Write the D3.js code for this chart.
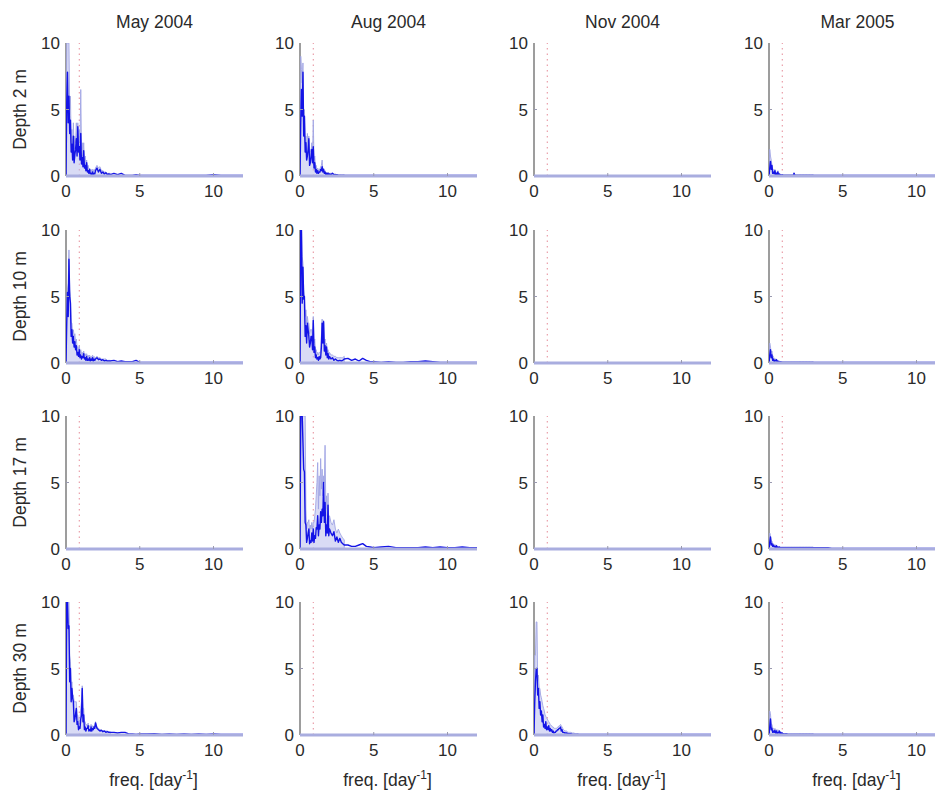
<!DOCTYPE html>
<html>
<head>
<meta charset="utf-8">
<script src="https://cdn.jsdelivr.net/npm/d3@7"></script>
<style>
  html, body { margin: 0; padding: 0; background: #fff; }
  svg { display: block; font-family: "Liberation Sans", Arial, sans-serif; }
</style>
</head>
<body>
<svg id="chart" width="935" height="798"></svg>
<script>
// Frequency grid (cycles per day): fine below 2, coarser in the tail
const freq = [
  0, 0.05, 0.1, 0.15, 0.2, 0.25, 0.3, 0.35, 0.4, 0.45,
  0.5, 0.55, 0.6, 0.65, 0.7, 0.75, 0.8, 0.85, 0.9, 0.95,
  1.0, 1.05, 1.1, 1.15, 1.2, 1.25, 1.3, 1.35, 1.4, 1.45,
  1.5, 1.55, 1.6, 1.65, 1.7, 1.75, 1.8, 1.85, 1.9, 1.95, 2.0,
  2.1, 2.2, 2.3, 2.4, 2.5, 2.6, 2.7, 2.8, 2.9, 3.0,
  3.25, 3.5, 3.75, 4.0, 4.25, 4.5, 4.75, 5.0,
  5.5, 6.0, 6.5, 7.0, 7.5, 8.0, 8.5, 9.0, 9.5, 10.0, 10.5, 11.0, 11.5, 12.0];

const months = ["May 2004", "Aug 2004", "Nov 2004", "Mar 2005"];
const depths = ["Depth 2 m", "Depth 10 m", "Depth 17 m", "Depth 30 m"];
const xTicks = [0, 5, 10];
const yTicks = [0, 5, 10];
const xDomain = [0, 12];
const yDomain = [0, 10];
const inertialFreq = 0.9;

// Spectral density (blue) and its wider envelope (light), per campaign and depth.
// Envelopes cover the grid up to 3 day^-1.
const specMay2 = [
  0, 5.5, 7.8, 4.0, 6.0, 3.2, 4.2, 1.8, 2.4, 1.2,
  3.0, 1.0, 1.6, 2.0, 2.8, 1.5, 3.7, 1.8, 2.2, 1.2,
  3.2, 0.9, 1.4, 0.7, 1.9, 0.6, 0.8, 0.4, 1.0, 0.3,
  0.4, 0.2, 0.5, 0.15, 0.2, 0.1, 0.3, 0.1, 0.2, 0.15, 0.4,
  0.6, 0.3, 0.5, 0.2, 0.3, 0.15, 0.25, 0.1, 0.15, 0.1,
  0.2, 0.1, 0.2, 0.05, 0.05, 0.05, 0.1, 0.05,
  0.05, 0.05, 0.05, 0.05, 0.05, 0.05, 0.05, 0.05, 0.05, 0.1, 0.05, 0.05, 0.05, 0.05];
const envMay2 = [
  0, 10, 10, 10, 10, 5, 6, 2.5, 3.5, 2.0,
  4, 2.0, 3, 2.5, 4, 2.5, 4, 2.5, 3.5, 2.5,
  6.5, 2.0, 2.5, 1.5, 2.5, 1.0, 1.5, 0.8, 1.2, 0.6,
  0.8, 0.5, 0.6, 0.4, 0.5, 0.3, 0.5, 0.3, 0.5, 0.4, 0.6,
  0.8, 0.6, 0.7, 0.4, 0.4, 0.3, 0.3, 0.2, 0.2, 0.2];

const specAug2 = [
  0, 4.0, 6.5, 4.5, 7.8, 3.0, 4.5, 1.8, 2.5, 1.2,
  1.5, 2.0, 2.8, 0.8, 1.0, 1.5, 2.0, 1.0, 2.2, 0.6,
  1.0, 0.3, 0.5, 0.2, 0.4, 0.2, 0.3, 0.3, 0.5, 0.4,
  0.7, 0.3, 0.5, 0.2, 0.3, 0.1, 0.2, 0.1, 0.2, 0.1, 0.15,
  0.1, 0.2, 0.1, 0.1, 0.1, 0.05, 0.05, 0.05, 0.05, 0.05,
  0.05, 0.05, 0.05, 0.05, 0.05, 0.05, 0.05, 0.05,
  0.05, 0.05, 0.05, 0.05, 0.05, 0.05, 0.05, 0.05, 0.05, 0.05, 0.05, 0.05, 0.05, 0.05];
const envAug2 = [
  0, 9, 8, 7, 8.5, 4, 5, 2.5, 3, 2,
  3.2, 2.5, 3, 1.5, 2, 1.8, 2.5, 1.5, 4.2, 1.2,
  1.5, 0.6, 0.8, 0.4, 0.6, 0.4, 0.5, 0.5, 0.7, 0.8,
  1.2, 0.4, 0.6, 0.3, 0.4, 0.2, 0.3, 0.2, 0.3, 0.2, 0.2,
  0.2, 0.2, 0.15, 0.15, 0.1, 0.1, 0.1, 0.1, 0.1, 0.1];

const specNov2 = [];
const envNov2 = [];

const specMar2 = [
  0, 0.6, 1.1, 0.5, 0.8, 0.2, 0.3, 0.15, 0.4, 0.1,
  0.2, 0.1, 0.3, 0.05, 0.15, 0.05, 0.1, 0.05, 0.1, 0.05,
  0.05, 0.05, 0.05, 0.05, 0.05, 0.05, 0.05, 0.05, 0.05, 0.05,
  0.05, 0.05, 0.05, 0.05, 0.2, 0.05, 0.05, 0.05, 0.05, 0.05, 0.05,
  0.05, 0.05, 0.05, 0.05, 0.05, 0.05, 0.05, 0.05, 0.05, 0.05,
  0.05, 0.05, 0.05, 0.05, 0.05, 0.05, 0.05, 0.05,
  0.05, 0.05, 0.05, 0.05, 0.05, 0.05, 0.05, 0.05, 0.05, 0.05, 0.05, 0.05, 0.05, 0.05];
const envMar2 = [
  0, 2.0, 1.5, 1.2, 0.8, 0.5, 0.5, 0.4, 0.5, 0.3,
  0.3, 0.2, 0.4, 0.15, 0.2, 0.1, 0.15, 0.1, 0.1, 0.1,
  0.1, 0.1, 0.1, 0.1, 0.1, 0.1, 0.1, 0.1, 0.1, 0.1,
  0.1, 0.1, 0.1, 0.1, 0.25, 0.1, 0.1, 0.1, 0.1, 0.1, 0.1,
  0.1, 0.1, 0.1, 0.1, 0.1, 0.1, 0.1, 0.1, 0.1, 0.1];

const specMay10 = [
  0, 3.0, 5.3, 3.5, 7.8, 5.0, 4.5, 2.0, 2.5, 1.5,
  2.0, 1.2, 1.6, 1.0, 1.3, 0.6, 0.8, 0.5, 1.0, 0.4,
  0.6, 0.3, 0.5, 0.4, 0.7, 0.3, 0.4, 0.2, 0.5, 0.2,
  0.3, 0.2, 0.4, 0.15, 0.3, 0.2, 0.4, 0.15, 0.3, 0.2, 0.3,
  0.4, 0.25, 0.3, 0.2, 0.25, 0.15, 0.2, 0.15, 0.15, 0.15,
  0.2, 0.1, 0.15, 0.1, 0.1, 0.1, 0.2, 0.05,
  0.05, 0.05, 0.05, 0.05, 0.05, 0.05, 0.05, 0.05, 0.05, 0.05, 0.05, 0.05, 0.05, 0.05];
const envMay10 = [
  0, 4, 5.5, 6, 8.5, 5.5, 5, 3, 3, 2.2,
  2.5, 2, 2.2, 1.5, 1.8, 1.2, 1.2, 1.0, 1.3, 0.8,
  1, 0.7, 0.8, 0.6, 0.9, 0.6, 0.7, 0.5, 0.7, 0.5,
  0.6, 0.4, 0.6, 0.4, 0.5, 0.4, 0.6, 0.4, 0.5, 0.4, 0.4,
  0.5, 0.4, 0.4, 0.3, 0.3, 0.3, 0.3, 0.2, 0.2, 0.2];

const specAug10 = [
  0, 10, 10, 4.5, 7.2, 4.8, 5.0, 2.0, 2.8, 1.5,
  3.0, 2.5, 2.0, 1.2, 1.5, 2.0, 2.0, 1.0, 3.2, 0.8,
  1.2, 0.4, 0.6, 0.3, 0.4, 0.2, 0.5, 0.3, 0.4, 1.2,
  3.0, 1.5, 3.1, 0.9, 1.3, 0.6, 1.2, 0.4, 0.7, 0.3, 0.5,
  0.3, 0.4, 0.2, 0.3, 0.2, 0.15, 0.2, 0.15, 0.2, 0.3,
  0.35, 0.2, 0.3, 0.15, 0.35, 0.2, 0.1, 0.1,
  0.05, 0.1, 0.05, 0.05, 0.1, 0.1, 0.15, 0.1, 0.05, 0.05, 0.05, 0.05, 0.05, 0.05];
const envAug10 = [
  0, 10, 10, 8, 7.5, 5.5, 5, 3.5, 4, 3,
  3.5, 3, 3, 2.2, 2.5, 2.5, 2.5, 2, 3.5, 1.5,
  1.8, 0.8, 1, 0.6, 0.8, 0.6, 0.8, 0.8, 0.8, 2.0,
  3.3, 2.0, 3.2, 1.5, 1.8, 1.0, 1.5, 0.8, 1.0, 0.6, 0.8,
  0.6, 0.6, 0.5, 0.5, 0.4, 0.4, 0.4, 0.4, 0.4, 0.5];

const specNov10 = [];
const envNov10 = [];

const specMar10 = [
  0, 0.6, 1.0, 0.4, 0.6, 0.2, 0.3, 0.1, 0.2, 0.15,
  0.25, 0.1, 0.15, 0.05, 0.1, 0.05, 0.1, 0.05, 0.05, 0.05,
  0.05, 0.05, 0.05, 0.05, 0.05, 0.05, 0.05, 0.05, 0.05, 0.05,
  0.05, 0.05, 0.05, 0.05, 0.05, 0.05, 0.05, 0.05, 0.05, 0.05, 0.05,
  0.05, 0.05, 0.05, 0.05, 0.05, 0.05, 0.05, 0.05, 0.05, 0.05,
  0.05, 0.05, 0.05, 0.05, 0.05, 0.05, 0.05, 0.05,
  0.05, 0.05, 0.05, 0.05, 0.05, 0.05, 0.05, 0.05, 0.05, 0.05, 0.05, 0.05, 0.05, 0.05];
const envMar10 = [
  0, 1.5, 1.2, 0.8, 0.9, 0.5, 0.5, 0.3, 0.3, 0.3,
  0.3, 0.2, 0.2, 0.15, 0.15, 0.1, 0.1, 0.1, 0.1, 0.1,
  0.1, 0.1, 0.1, 0.1, 0.1, 0.1, 0.1, 0.1, 0.1, 0.1,
  0.1, 0.1, 0.1, 0.1, 0.1, 0.1, 0.1, 0.1, 0.1, 0.1, 0.1,
  0.1, 0.1, 0.1, 0.1, 0.1, 0.1, 0.1, 0.1, 0.1, 0.1];

const specMay17 = [];
const envMay17 = [];

const specAug17 = [
  0, 10, 10, 10, 8.0, 6.0, 5.8, 2.0, 1.8, 0.5,
  0.8, 1.2, 1.5, 0.4, 0.6, 0.5, 1.2, 0.6, 1.5, 0.5,
  1.0, 0.8, 1.6, 1.5, 2.5, 1.0, 1.8, 1.5, 2.8, 2.0,
  3.0, 2.5, 5.0, 2.0, 3.5, 1.0, 1.8, 1.2, 3.3, 1.0, 1.5,
  1.2, 1.0, 1.3, 0.6, 0.9, 0.5, 0.8, 0.5, 0.4, 0.3,
  0.3, 0.2, 0.2, 0.3, 0.4, 0.2, 0.15, 0.1,
  0.15, 0.2, 0.1, 0.1, 0.1, 0.1, 0.15, 0.1, 0.15, 0.1, 0.1, 0.15, 0.1, 0.1];
const envAug17 = [
  0, 10, 10, 10, 10, 10, 10, 10, 3.0, 1.5,
  2.0, 2.0, 2.2, 1.2, 1.8, 1.5, 2.0, 1.5, 2.0, 2.0,
  2.5, 3.0, 4.0, 5.0, 6.5, 3.0, 5.5, 4.0, 6.8, 4.5,
  6.0, 4.0, 5.5, 5.0, 7.8, 3.0, 4.0, 2.5, 4.2, 2.0, 2.5,
  2.0, 1.8, 2.2, 1.5, 1.2, 1.5, 1.2, 1.0, 0.8, 0.7];

const specNov17 = [];
const envNov17 = [];

const specMar17 = [
  0, 0.5, 0.9, 0.3, 0.4, 0.2, 0.3, 0.15, 0.2, 0.1,
  0.25, 0.1, 0.15, 0.1, 0.15, 0.1, 0.1, 0.1, 0.1, 0.1,
  0.1, 0.1, 0.1, 0.1, 0.1, 0.1, 0.1, 0.1, 0.1, 0.1,
  0.1, 0.1, 0.1, 0.1, 0.1, 0.1, 0.1, 0.1, 0.1, 0.1, 0.1,
  0.1, 0.1, 0.1, 0.1, 0.1, 0.1, 0.1, 0.1, 0.1, 0.1,
  0.1, 0.1, 0.1, 0.1, 0.05, 0.05, 0.05, 0.05,
  0.05, 0.05, 0.05, 0.05, 0.05, 0.05, 0.05, 0.05, 0.05, 0.05, 0.05, 0.05, 0.05, 0.05];
const envMar17 = [
  0, 1.2, 1.0, 0.6, 0.6, 0.4, 0.4, 0.3, 0.3, 0.3,
  0.3, 0.2, 0.2, 0.15, 0.15, 0.15, 0.15, 0.15, 0.15, 0.15,
  0.15, 0.15, 0.15, 0.15, 0.15, 0.15, 0.15, 0.15, 0.15, 0.15,
  0.15, 0.15, 0.15, 0.15, 0.15, 0.15, 0.15, 0.15, 0.15, 0.15, 0.15,
  0.15, 0.15, 0.15, 0.15, 0.15, 0.15, 0.15, 0.15, 0.15, 0.15];

const specMay30 = [
  0, 10, 10, 8.0, 8.2, 4.0, 5.0, 2.5, 3.5, 2.8,
  2.5, 1.0, 1.2, 1.6, 2.0, 0.8, 1.0, 0.4, 0.6, 0.5,
  1.2, 1.5, 3.5, 1.0, 1.5, 0.4, 0.6, 0.3, 0.5, 0.5,
  0.7, 0.3, 0.4, 0.3, 0.6, 0.3, 0.5, 0.4, 0.6, 0.5, 0.9,
  0.5, 0.4, 0.3, 0.35, 0.25, 0.3, 0.2, 0.25, 0.2, 0.2,
  0.2, 0.15, 0.2, 0.2, 0.08, 0.08, 0.05, 0.08,
  0.08, 0.1, 0.05, 0.08, 0.05, 0.08, 0.05, 0.08, 0.05, 0.08, 0.05, 0.05, 0.05, 0.05];
const envMay30 = [
  0, 10, 10, 10, 10, 6, 5.5, 3.5, 4, 3,
  3, 2.5, 2.5, 2.5, 2.5, 1.5, 1.5, 1.0, 1.0, 1.2,
  2.0, 2.5, 3.7, 2.0, 2.0, 1.0, 1.0, 0.7, 0.8, 0.7,
  0.9, 0.6, 0.7, 0.6, 0.8, 0.6, 0.7, 0.6, 0.7, 0.7, 1.0,
  0.6, 0.5, 0.4, 0.4, 0.3, 0.3, 0.3, 0.3, 0.25, 0.25];

const specAug30 = [];
const envAug30 = [];

const specNov30 = [
  0, 2.5, 4.0, 5.0, 5.0, 3.0, 3.5, 2.0, 2.5, 1.5,
  1.8, 1.0, 1.5, 0.6, 0.8, 0.5, 1.0, 0.4, 0.6, 0.4,
  0.7, 0.3, 0.5, 0.3, 0.4, 0.2, 0.3, 0.15, 0.2, 0.2,
  0.3, 0.3, 0.4, 0.4, 0.5, 0.5, 0.6, 0.3, 0.4, 0.2, 0.2,
  0.15, 0.15, 0.1, 0.1, 0.1, 0.05, 0.05, 0.05, 0.05, 0.05,
  0.05, 0.05, 0.05, 0.05, 0.05, 0.05, 0.05, 0.05,
  0.05, 0.05, 0.05, 0.05, 0.05, 0.05, 0.05, 0.05, 0.05, 0.05, 0.05, 0.05, 0.05, 0.05];
const envNov30 = [
  0, 6, 6, 8.5, 8.5, 4, 4.5, 3.5, 3.5, 3.0,
  2.8, 2.5, 2.2, 2.0, 1.8, 1.5, 1.4, 1.3, 1.2, 1.1,
  1.0, 0.9, 0.8, 0.7, 0.7, 0.6, 0.6, 0.5, 0.5, 0.5,
  0.5, 0.5, 0.6, 0.6, 0.7, 0.7, 0.8, 0.7, 0.6, 0.5, 0.4,
  0.3, 0.3, 0.2, 0.2, 0.2, 0.15, 0.15, 0.1, 0.1, 0.1];

const specMar30 = [
  0, 0.6, 1.2, 0.4, 0.5, 0.2, 0.3, 0.2, 0.35, 0.15,
  0.3, 0.1, 0.2, 0.15, 0.3, 0.1, 0.2, 0.1, 0.15, 0.05,
  0.1, 0.05, 0.1, 0.05, 0.1, 0.05, 0.05, 0.05, 0.05, 0.05,
  0.05, 0.05, 0.05, 0.05, 0.05, 0.05, 0.05, 0.05, 0.05, 0.05, 0.05,
  0.05, 0.05, 0.05, 0.05, 0.05, 0.05, 0.05, 0.05, 0.05, 0.05,
  0.05, 0.05, 0.05, 0.05, 0.05, 0.05, 0.05, 0.05,
  0.05, 0.05, 0.05, 0.05, 0.05, 0.05, 0.05, 0.05, 0.05, 0.05, 0.05, 0.05, 0.05, 0.05];
const envMar30 = [
  0, 1.8, 1.6, 0.8, 0.8, 0.5, 0.5, 0.4, 0.5, 0.4,
  0.4, 0.3, 0.4, 0.3, 0.3, 0.2, 0.2, 0.15, 0.15, 0.1,
  0.1, 0.1, 0.1, 0.1, 0.1, 0.1, 0.1, 0.1, 0.1, 0.1,
  0.1, 0.1, 0.1, 0.1, 0.1, 0.1, 0.1, 0.1, 0.1, 0.1, 0.1,
  0.1, 0.1, 0.1, 0.1, 0.1, 0.1, 0.1, 0.1, 0.1, 0.1];

// Rows = depth, columns = campaign
const spectra = [
  [specMay2, specAug2, specNov2, specMar2],
  [specMay10, specAug10, specNov10, specMar10],
  [specMay17, specAug17, specNov17, specMar17],
  [specMay30, specAug30, specNov30, specMar30]
];
const envelopes = [
  [envMay2, envAug2, envNov2, envMar2],
  [envMay10, envAug10, envNov10, envMar10],
  [envMay17, envAug17, envNov17, envMar17],
  [envMay30, envAug30, envNov30, envMar30]
];

// Panel layout
const colLeft = [66, 300, 534, 769];
const rowTop = [43, 230, 416, 602];
const panelW = 177, panelH = 133;

const svg = d3.select("#chart");
const textColor = "#2a2a2a";
const tickFont = 17, labelFont = 17.5;

const x = d3.scaleLinear().domain(xDomain).range([0, panelW]);
const y = d3.scaleLinear().domain(yDomain).range([panelH, 0]).clamp(true);

const line = d3.line()
  .x((d, i) => x(freq[i]))
  .y(d => y(d));
const area = d3.area()
  .x((d, i) => x(freq[i]))
  .y0(y(0))
  .y1(d => y(d));

svg.append("defs").append("clipPath").attr("id", "panelClip")
  .append("rect").attr("x", 0).attr("y", 0).attr("width", panelW).attr("height", panelH);

depths.forEach((depth, r) => {
  months.forEach((month, c) => {
    const g = svg.append("g").attr("transform", `translate(${colLeft[c]},${rowTop[r]})`);

    // y-axis line
    g.append("line")
      .attr("x1", x(0)).attr("x2", x(0))
      .attr("y1", y(yDomain[0])).attr("y2", y(yDomain[1]))
      .attr("stroke", "#858585").attr("stroke-width", 1.6);

    const plot = g.append("g").attr("clip-path", "url(#panelClip)");

    // inertial frequency marker
    plot.append("line")
      .attr("x1", x(inertialFreq)).attr("x2", x(inertialFreq))
      .attr("y1", y(0)).attr("y2", y(10))
      .attr("stroke", "#e58a98").attr("stroke-width", 1)
      .attr("stroke-dasharray", "1.5,4");

    const env = envelopes[r][c];
    if (env.length) {
      plot.append("path").datum(env)
        .attr("d", area)
        .attr("fill", "#b3b7ec").attr("fill-opacity", 0.5)
        .attr("stroke", "#a0a5e4").attr("stroke-width", 0.9);
    }
    const spec = spectra[r][c];
    if (spec.length) {
      plot.append("path").datum(spec)
        .attr("d", line)
        .attr("fill", "none")
        .attr("stroke", "#1414e6").attr("stroke-width", 1.4)
        .attr("stroke-linejoin", "round");
    }

    // x baseline
    g.append("line")
      .attr("x1", x(xDomain[0])).attr("x2", x(xDomain[1]))
      .attr("y1", y(0)).attr("y2", y(0))
      .attr("stroke", "#a9addf").attr("stroke-width", 3);

    // small inward ticks
    xTicks.filter(t => t > 0).forEach(t => {
      g.append("line").attr("x1", x(t)).attr("x2", x(t))
        .attr("y1", y(0)).attr("y2", y(0) - 3)
        .attr("stroke", "#9a9ab0").attr("stroke-width", 1);
    });
    yTicks.filter(t => t > 0 && t < 10).forEach(t => {
      g.append("line").attr("x1", x(0)).attr("x2", x(0) + 3)
        .attr("y1", y(t)).attr("y2", y(t))
        .attr("stroke", "#9a9ab0").attr("stroke-width", 1);
    });

    // tick labels
    g.selectAll(".xt").data(xTicks).enter().append("text")
      .attr("x", d => x(d)).attr("y", y(0) + 21)
      .attr("text-anchor", "middle")
      .attr("font-size", tickFont).attr("fill", textColor)
      .text(d => d);
    g.selectAll(".yt").data(yTicks).enter().append("text")
      .attr("x", x(0) - 6).attr("y", d => y(d) + 6)
      .attr("text-anchor", "end")
      .attr("font-size", tickFont).attr("fill", textColor)
      .text(d => d);

    if (r === 0) {
      g.append("text")
        .attr("x", panelW / 2).attr("y", -15)
        .attr("text-anchor", "middle")
        .attr("font-size", labelFont).attr("fill", textColor)
        .text(month);
    }
    if (c === 0) {
      g.append("text")
        .attr("transform", `translate(${-40},${panelH / 2}) rotate(-90)`)
        .attr("text-anchor", "middle")
        .attr("font-size", labelFont).attr("fill", textColor)
        .text(depth);
    }
    if (r === depths.length - 1) {
      const t = g.append("text")
        .attr("x", panelW / 2 - 1).attr("y", panelH + 51)
        .attr("text-anchor", "middle")
        .attr("font-size", labelFont).attr("fill", textColor);
      t.append("tspan").text("freq. [day");
      t.append("tspan").attr("dy", -7).attr("font-size", 12).text("-1");
      t.append("tspan").attr("dy", 7).text("]");
    }
  });
});
</script>
</body>
</html>
